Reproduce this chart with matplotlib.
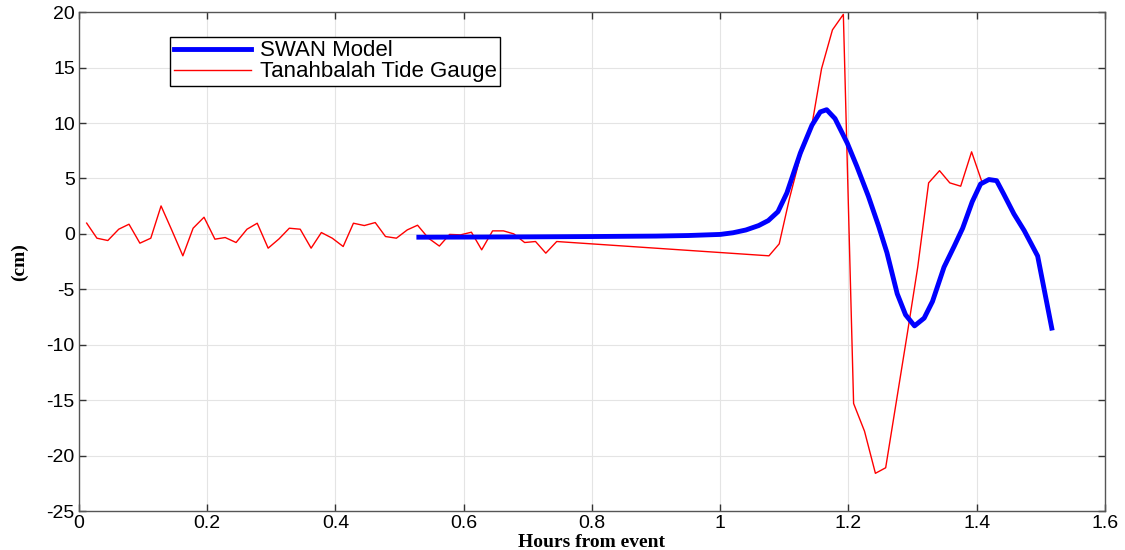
import matplotlib
matplotlib.use('Agg')
import matplotlib.pyplot as plt

plt.rcParams['axes.unicode_minus'] = False

# tide gauge record (hours from event, cm)
gauge_t = [0.012, 0.028, 0.045, 0.062, 0.078, 0.095, 0.112, 0.128, 0.145, 0.162,
           0.178, 0.195, 0.212, 0.228, 0.245, 0.262, 0.278, 0.295, 0.312, 0.328,
           0.345, 0.362, 0.378, 0.395, 0.412, 0.428, 0.445, 0.462, 0.478, 0.495,
           0.512, 0.528, 0.545, 0.562, 0.578, 0.595, 0.612, 0.628, 0.645, 0.662,
           0.678, 0.695, 0.712, 0.728, 0.745,
           1.076, 1.092, 1.108, 1.125, 1.142, 1.158, 1.175, 1.192, 1.208, 1.225,
           1.242, 1.258, 1.275, 1.292, 1.308, 1.325, 1.342, 1.358, 1.375, 1.392,
           1.408]
gauge_cm = [0.97, -0.39, -0.6, 0.42, 0.87, -0.84, -0.39, 2.52, 0.3, -1.98,
            0.51, 1.5, -0.48, -0.33, -0.78, 0.42, 0.96, -1.29, -0.45, 0.51,
            0.42, -1.29, 0.12, -0.39, -1.14, 0.96, 0.75, 1.02, -0.24, -0.39,
            0.36, 0.78, -0.39, -1.1, -0.05, -0.09, 0.15, -1.44, 0.27, 0.27,
            0.0, -0.78, -0.69, -1.74, -0.69,
            -1.98, -0.9, 3.2, 7.0, 9.5, 14.9, 18.4, 19.8, -15.3, -17.8,
            -21.6, -21.1, -15.0, -8.9, -3.0, 4.6, 5.7, 4.6, 4.3, 7.4,
            4.7]

# SWAN model output
swan_t = [0.53, 0.6, 0.7, 0.8, 0.9, 0.95, 1.0, 1.02, 1.04, 1.06,
          1.075, 1.09, 1.104, 1.125, 1.143, 1.156, 1.166, 1.179, 1.198, 1.213,
          1.231, 1.247, 1.26, 1.276, 1.289, 1.303, 1.318, 1.331, 1.349, 1.365,
          1.378, 1.393, 1.406, 1.419, 1.431, 1.442, 1.458, 1.474, 1.485, 1.495,
          1.517]
swan_cm = [-0.3, -0.29, -0.27, -0.24, -0.2, -0.15, -0.05, 0.1, 0.35, 0.75,
           1.2, 2.0, 3.7, 7.3, 9.8, 11.0, 11.2, 10.4, 8.2, 6.1,
           3.4, 0.7, -1.7, -5.4, -7.3, -8.3, -7.6, -6.1, -3.0, -1.1,
           0.5, 2.9, 4.5, 4.9, 4.8, 3.6, 1.8, 0.3, -0.9, -2.0,
           -8.5]

fig = plt.figure(figsize=(11.25, 5.5), dpi=100)
ax = fig.add_axes([0.0702, 0.0709, 0.912, 0.907])

ax.plot(swan_t, swan_cm, color='#0000ff', lw=3.5, label='SWAN Model', zorder=3)
ax.plot(gauge_t, gauge_cm, color='#ff0000', lw=1.0, label='Tanahbalah Tide Gauge', zorder=2)

ax.set_xlim(0, 1.6)
ax.set_ylim(-25, 20)
ax.set_xticks([0, 0.2, 0.4, 0.6, 0.8, 1, 1.2, 1.4, 1.6])
ax.set_xticklabels(['0', '0.2', '0.4', '0.6', '0.8', '1', '1.2', '1.4', '1.6'])
ax.set_yticks(range(-25, 21, 5))
ax.grid(True, color='#e4e4e4', lw=0.8)
ax.set_axisbelow(True)
ax.tick_params(direction='in', top=True, right=True, length=5, width=1,
               labelsize=14, colors='#333333', labelcolor='black', pad=3)
for lab in ax.get_xticklabels() + ax.get_yticklabels():
    lab.set_family('Liberation Sans')
for s in ax.spines.values():
    s.set_color('#555555')
    s.set_linewidth(1.0)

ax.set_xlabel('Hours from event', family='Liberation Serif', weight='bold', fontsize=14, labelpad=1)
ax.set_ylabel('(cm)', family='Liberation Serif', weight='bold', fontsize=14, labelpad=13)

leg = ax.legend(loc='upper left', bbox_to_anchor=(0.089, 0.95), prop={'family': 'Liberation Sans', 'size': 16},
                fancybox=False, framealpha=1, edgecolor='black', borderpad=0.15,
                handlelength=3.5, handletextpad=0.4, labelspacing=0.0, borderaxespad=0)
leg.get_frame().set_linewidth(1.0)

fig.savefig('out.png', dpi=100)
